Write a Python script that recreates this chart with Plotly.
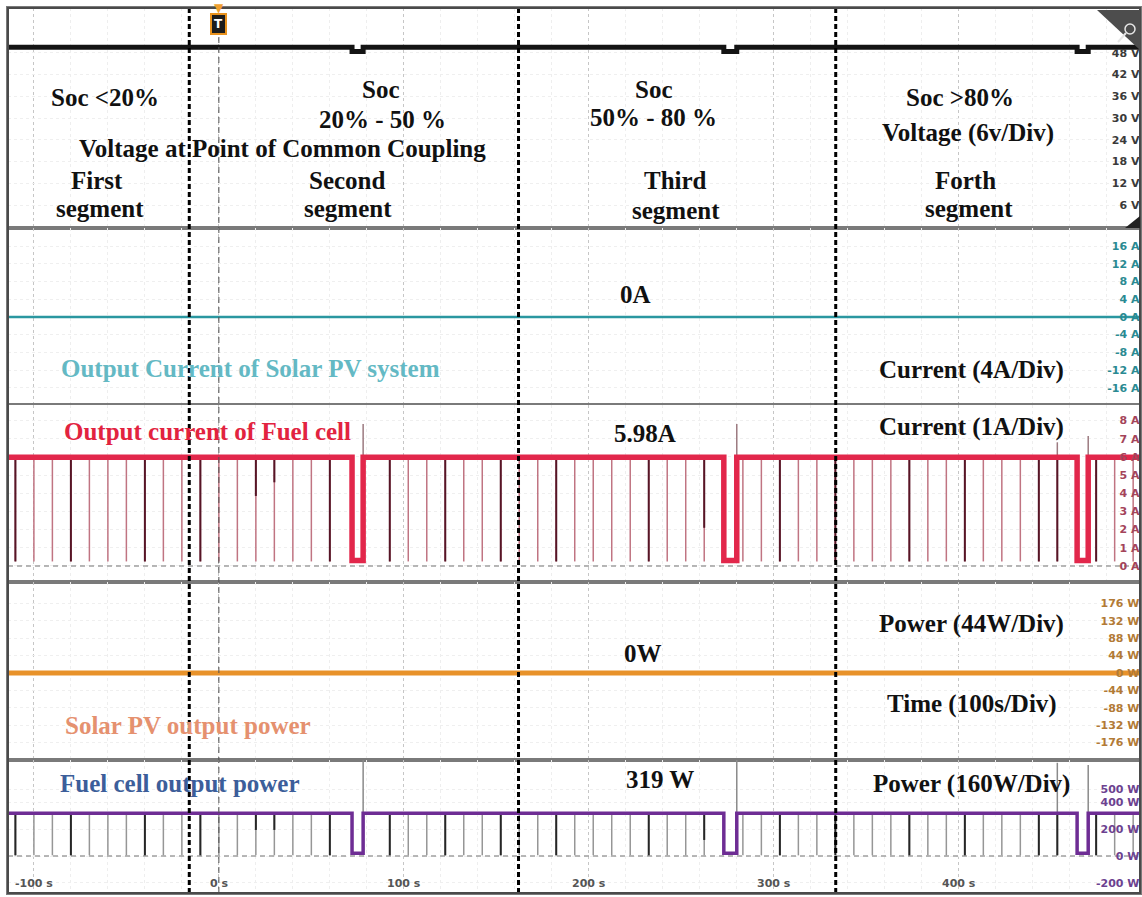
import plotly.graph_objects as go
from plotly.subplots import make_subplots

# ---------------- time base (s) ----------------
T_START, T_END = -114, 498
TIME_TICKS = [-100, 0, 100, 200, 300, 400]
TIME_TICK_TEXT = ["-100 s", "0 s", "100 s", "200 s", "300 s", "400 s"]

# boundaries between the four SoC operating segments
SEGMENT_BOUNDS = [-16, 162, 333.5]

# long purge / switching dips (start, end)
DIP_START = [72, 273, 464]
DIP_END = [78, 280, 470]

# short periodic dips of the fuel cell output
SPIKE_T = [-110, -100, -90, -80, -70, -60, -50, -40, -30, -20, -10, 0, 10, 20, 30, 40, 50, 60,
           92.4, 102.4, 112.4, 122.4, 132.4, 142.4, 152.4, 162.4, 172.4, 182.4, 192.4, 202.4,
           212.4, 222.4, 232.4, 242.4, 252.4, 262.4,
           283.3, 293.3, 303.3, 313.3, 323.3, 333.3, 343.3, 353.3, 363.3, 373.3, 383.3, 393.3,
           403.3, 413.3, 423.3, 433.3, 443.3, 453.3,
           474.3, 484.3, 494.3]
SPIKE_SHADE = list("DLLDLLLDLLDLLDDLLD" "DLLDLLDLLDLLLLDLLD" "LLDLLDLLLDLLDLLLDD" "DLL")

# dips whose dark trace stops part way down
PARTIAL_T = [20, 30, 262.4]
FC_I_PARTIAL = [3.85, 4.6, 2.1]
FC_P_PARTIAL = [195, 195, 120]

# overshoots at the end of the long dips
UP_T = [78, 280, 453.3, 470]
FC_I_UP = [7.8, 7.8, 6.8, 7.15]
FC_P_UP = [720, 720, 697, 680]

# channel levels
PCC_V, PCC_V_DIP = 49.5, 48.3
PV_I = 0.0
FC_I, FC_I_DIP, FC_I_SPIKE_MIN = 5.98, 0.3, 0.25
PV_P = 0.0
FC_P, FC_P_DIP, FC_P_SPIKE_MIN = 319, 20, 5

# axis labels
V_TICKS = [6, 12, 18, 24, 30, 36, 42, 48]
PV_I_TICKS = [-16, -12, -8, -4, 0, 4, 8, 12, 16]
FC_I_TICKS = [0, 1, 2, 3, 4, 5, 6, 7, 8]
PV_P_TICKS = [-176, -132, -88, -44, 0, 44, 88, 132, 176]
FC_P_TICKS = [-200, 0, 200, 400, 500]

# ---------------- geometry of the screen ----------------
W, H = 1142, 897
L, R, T, B = 8, 1140, 8, 893


def paper(xp, yp):
    return (xp - L) / (R - L), (B - yp) / (B - T)


def step_series(level, dip_level):
    xs, ys = [T_START], [level]
    for s, e in zip(DIP_START, DIP_END):
        xs += [s, s, e, e]
        ys += [level, dip_level, dip_level, level]
    xs.append(T_END)
    ys.append(level)
    return xs, ys


def spike_series(level, floor, shade):
    xs, ys = [], []
    for t, sh in zip(SPIKE_T, SPIKE_SHADE):
        if shade is None or sh == shade:
            if shade == "D" and t in PARTIAL_T:
                continue
            xs += [t, t, None]
            ys += [level, floor, None]
    return xs, ys


def partial_series(level, floors):
    xs, ys = [], []
    for t, f in zip(PARTIAL_T, floors):
        xs += [t, t, None]
        ys += [level, f, None]
    return xs, ys


def up_series(level, tops):
    xs, ys = [], []
    for t, top in zip(UP_T, tops):
        xs += [t, t, None]
        ys += [level, top, None]
    return xs, ys


def line(x, y, color, width, dash=None):
    return go.Scatter(x=x, y=y, mode="lines", line=dict(color=color, width=width, dash=dash),
                      hoverinfo="skip")


fig = make_subplots(rows=5, cols=1, shared_xaxes=True, vertical_spacing=0,
                    row_heights=[220, 177, 177, 178, 133])

# --- PCC voltage ---
fig.add_trace(line(*step_series(PCC_V, PCC_V_DIP), "#141414", 5), row=1, col=1)

# --- PV current ---
fig.add_trace(line([T_START, T_END], [PV_I, PV_I], "#2a97a0", 2.5), row=2, col=1)

# --- fuel cell current ---
FC_I_LIGHT, FC_I_DARK = "#c07482", "#561526"
fig.add_trace(line([T_START, T_END], [0, 0], "#a0a0a0", 1.5, "5px,4px"), row=3, col=1)
fig.add_trace(line(*spike_series(FC_I, FC_I_SPIKE_MIN, None), FC_I_LIGHT, 1.5), row=3, col=1)
fig.add_trace(line(*spike_series(FC_I, FC_I_SPIKE_MIN, "D"), FC_I_DARK, 2), row=3, col=1)
fig.add_trace(line(*partial_series(FC_I, FC_I_PARTIAL), FC_I_DARK, 2), row=3, col=1)
fig.add_trace(line(*up_series(FC_I, FC_I_UP), "#9c7a80", 1.5), row=3, col=1)
fig.add_trace(line(*step_series(FC_I, FC_I_DIP), "#e2274b", 5.5), row=3, col=1)

# --- PV power ---
fig.add_trace(line([T_START, T_END], [PV_P, PV_P], "#e8922a", 5), row=4, col=1)

# --- fuel cell power ---
FC_P_LIGHT, FC_P_DARK = "#969696", "#262626"
fig.add_trace(line([T_START, T_END], [0, 0], "#a0a0a0", 1.5, "5px,4px"), row=5, col=1)
fig.add_trace(line(*spike_series(FC_P, FC_P_SPIKE_MIN, None), FC_P_LIGHT, 1.5), row=5, col=1)
fig.add_trace(line(*spike_series(FC_P, FC_P_SPIKE_MIN, "D"), FC_P_DARK, 2), row=5, col=1)
fig.add_trace(line(*partial_series(FC_P, FC_P_PARTIAL), FC_P_DARK, 2), row=5, col=1)
fig.add_trace(line(*up_series(FC_P, FC_P_UP), "#8a8a8a", 1.5), row=5, col=1)
fig.add_trace(line(*step_series(FC_P, FC_P_DIP), "#6e2d94", 3.5), row=5, col=1)

# ---------------- axes ----------------
fig.update_xaxes(range=[T_START, T_END], tickvals=TIME_TICKS, showticklabels=False,
                 showgrid=True, gridcolor="#c6c6c6", griddash="dot", gridwidth=1,
                 minor=dict(tickmode="linear", tick0=0, dtick=20, showgrid=True,
                            gridcolor="#eeeeee", griddash="dot", gridwidth=1),
                 zeroline=False, showline=True, mirror=True, linecolor="#7a7a7a", linewidth=1.5,
                 ticks="")

axis_specs = [
    (1, [-0.3, 60.3], V_TICKS, "V", "#3a3a3a"),
    (2, [-19.9, 20.1], PV_I_TICKS, "A", "#2a8a92"),
    (3, [-0.88, 8.85], FC_I_TICKS, "A", "#a4445a"),
    (4, [-220, 230], PV_P_TICKS, "W", "#b27a36"),
    (5, [-276.6, 717.8], FC_P_TICKS, "W", "#6c4290"),
]
for row, rng, ticks, unit, col in axis_specs:
    fig.update_yaxes(range=rng, tickvals=ticks, ticktext=[f"{v} {unit}" for v in ticks],
                     side="right", ticklabelposition="inside", ticks="",
                     tickfont=dict(family="DejaVu Sans", size=11, color=col, weight="bold"),
                     showgrid=True, gridcolor="#efefef", griddash="dot", zeroline=False,
                     showline=True, mirror=True, linecolor="#7a7a7a", linewidth=1.5,
                     row=row, col=1)

# ---------------- markers on the screen ----------------
shapes = []
for tb in SEGMENT_BOUNDS:
    shapes.append(dict(type="line", xref="x", yref="paper", x0=tb, x1=tb, y0=0, y1=1,
                       line=dict(color="#000000", width=3, dash="5px,3px")))
shapes.append(dict(type="line", xref="x", yref="paper", x0=0, x1=0, y0=0, y1=paper(0, 36)[1],
                   line=dict(color="#505050", width=1, dash="6px,4px")))
# outer frame
shapes.append(dict(type="rect", xref="paper", yref="paper", x0=0, x1=1, y0=0, y1=1,
                   line=dict(color="#4a4a4a", width=2)))
# zoom corner
p1, p2, p3 = paper(1097, 10), paper(1140, 10), paper(1140, 50)
shapes.append(dict(type="path", xref="paper", yref="paper",
                   path=f"M {p1[0]} {p1[1]} L {p2[0]} {p2[1]} L {p3[0]} {p3[1]} Z",
                   fillcolor="#4d4d4d", line=dict(width=0)))
c0, c1 = paper(1125, 24), paper(1135, 34)
shapes.append(dict(type="circle", xref="paper", yref="paper", x0=c0[0], x1=c1[0], y0=c0[1], y1=c1[1],
                   line=dict(color="#e6e6e6", width=1.5)))
h0, h1 = paper(1126, 33), paper(1118, 42)
shapes.append(dict(type="line", xref="paper", yref="paper", x0=h0[0], x1=h1[0], y0=h0[1], y1=h1[1],
                   line=dict(color="#e6e6e6", width=2)))
# panel end marker
q1, q2, q3 = paper(1125, 228), paper(1140, 228), paper(1140, 216)
shapes.append(dict(type="path", xref="paper", yref="paper",
                   path=f"M {q1[0]} {q1[1]} L {q2[0]} {q2[1]} L {q3[0]} {q3[1]} Z",
                   fillcolor="#222222", line=dict(width=0)))

SERIF = "Liberation Serif"
LABELS = [
    ("Soc <20%", 105, 97, "#111111"),
    ("Soc", 381, 90, "#111111"),
    ("20% - 50 %", 382, 119, "#111111"),
    ("Voltage at Point of Common Coupling", 282, 148, "#111111"),
    ("First", 97, 180, "#111111"),
    ("segment", 100, 209, "#111111"),
    ("Second", 347, 180, "#111111"),
    ("segment", 348, 209, "#111111"),
    ("Soc", 654, 90, "#111111"),
    ("50% - 80 %", 654, 118, "#111111"),
    ("Third", 675, 181, "#111111"),
    ("segment", 676, 211, "#111111"),
    ("Soc >80%", 960, 97, "#111111"),
    ("Voltage (6v/Div)", 968, 133, "#111111"),
    ("Forth", 965, 180, "#111111"),
    ("segment", 969, 209, "#111111"),
    ("0A", 636, 294, "#111111"),
    ("Output Current of Solar PV system", 250, 368, "#64b9c4"),
    ("Current (4A/Div)", 972, 370, "#111111"),
    ("Output current of Fuel cell", 207, 431, "#e2233f"),
    ("5.98A", 645, 434, "#111111"),
    ("Current (1A/Div)", 972, 427, "#111111"),
    ("Power (44W/Div)", 972, 624, "#111111"),
    ("0W", 643, 653, "#111111"),
    ("Time (100s/Div)", 972, 704, "#111111"),
    ("Solar PV output power", 188, 725, "#e5916f"),
    ("Fuel cell output power", 180, 783, "#3c5e9a"),
    ("319 W", 660, 779, "#111111"),
    ("Power (160W/Div)", 972, 784, "#111111"),
]
annotations = []
for text, xp, yp, color in LABELS:
    ax, ay = paper(xp, yp)
    annotations.append(dict(text=f"<b>{text}</b>", x=ax, y=ay, xref="paper", yref="paper",
                            xanchor="center", yanchor="middle", showarrow=False,
                            font=dict(family=SERIF, size=25, color=color)))

# time labels along the bottom, placed on the shared time axis
for tv, tt in zip(TIME_TICKS, TIME_TICK_TEXT):
    annotations.append(dict(text=tt, x=tv, y=paper(0, 883)[1], xref="x", yref="paper",
                            xanchor="center", yanchor="middle", showarrow=False,
                            font=dict(family="DejaVu Sans", size=11, color="#555555", weight="bold")))

# trigger marker
annotations.append(dict(text="<b>T</b>", x=0, y=paper(0, 24)[1], xref="x", yref="paper",
                        xanchor="center", yanchor="middle", showarrow=False,
                        font=dict(family="DejaVu Sans", size=12, color="#ffffff"),
                        bgcolor="#1c1c1c", bordercolor="#e8921e", borderwidth=2, borderpad=2))
annotations.append(dict(text="▼", x=0, y=paper(0, 8)[1], xref="x", yref="paper",
                        xanchor="center", yanchor="middle", showarrow=False,
                        font=dict(family="DejaVu Sans", size=12, color="#f0a030")))

fig.update_layout(width=W, height=H, autosize=False,
                  margin=dict(l=L, r=W - R, t=T, b=H - B),
                  paper_bgcolor="#ffffff", plot_bgcolor="#ffffff",
                  showlegend=False, shapes=shapes, annotations=annotations)

fig.write_html("out.html")
